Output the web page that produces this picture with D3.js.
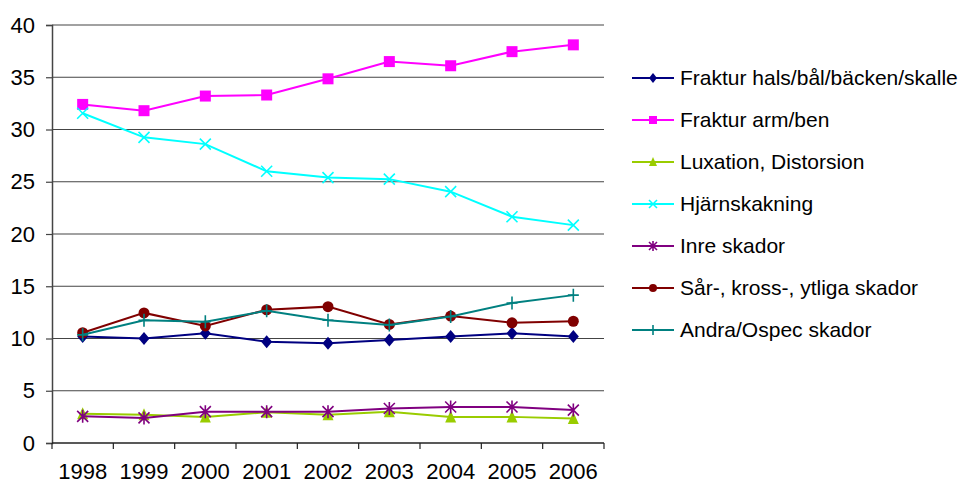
<!DOCTYPE html>
<html>
<head>
<meta charset="utf-8">
<script src="https://cdn.jsdelivr.net/npm/d3@7"></script>
<style>
  body { margin: 0; background: #fff; }
  svg { display: block; font-family: "Liberation Sans", Arial, sans-serif; }
</style>
</head>
<body>
<svg id="chart" width="961" height="483"></svg>
<script>
const years = ["1998", "1999", "2000", "2001", "2002", "2003", "2004", "2005", "2006"];
const yTicks = [0, 5, 10, 15, 20, 25, 30, 35, 40];

const frakturHals = [10.2, 10.0, 10.5, 9.7, 9.55, 9.85, 10.2, 10.5, 10.2];
const frakturArm = [32.4, 31.8, 33.2, 33.3, 34.85, 36.5, 36.1, 37.45, 38.1];
const luxation = [2.8, 2.7, 2.5, 2.95, 2.7, 3.0, 2.5, 2.5, 2.35];
const hjarnskakning = [31.55, 29.25, 28.6, 26.0, 25.4, 25.25, 24.05, 21.65, 20.85];
const inreSkador = [2.55, 2.4, 3.0, 3.0, 3.0, 3.3, 3.45, 3.45, 3.15];
const sarSkador = [10.55, 12.45, 11.2, 12.75, 13.05, 11.35, 12.15, 11.5, 11.65];
const andraSkador = [10.35, 11.75, 11.6, 12.65, 11.75, 11.3, 12.1, 13.4, 14.15];

const seriesNames = [
  "Fraktur hals/bål/bäcken/skalle",
  "Fraktur arm/ben",
  "Luxation, Distorsion",
  "Hjärnskakning",
  "Inre skador",
  "Sår-, kross-, ytliga skador",
  "Andra/Ospec skador"
];
const seriesValues = [frakturHals, frakturArm, luxation, hjarnskakning, inreSkador, sarSkador, andraSkador];
const colors = ["#000080", "#FF00FF", "#99CC00", "#00FFFF", "#800080", "#800000", "#008080"];
const markers = ["diamond", "square", "triangle", "x", "star", "circle", "plus"];

const margin = { top: 25, right: 357, bottom: 40, left: 52 };
const width = 961, height = 483;
const svg = d3.select("#chart");

const x = d3.scaleBand().domain(years).range([margin.left, width - margin.right]);
const y = d3.scaleLinear().domain([0, 40]).range([height - margin.bottom, margin.top]);

// gridlines
svg.append("g")
  .selectAll("line")
  .data(yTicks.filter(d => d > 0))
  .join("line")
  .attr("x1", margin.left).attr("x2", width - margin.right)
  .attr("y1", d => y(d)).attr("y2", d => y(d))
  .attr("stroke", "#444").attr("stroke-width", 1.2);

// y axis
const gY = svg.append("g").attr("transform", `translate(${margin.left},0)`);
gY.call(d3.axisLeft(y).tickValues(yTicks).tickSize(6).tickPadding(11).tickFormat(d3.format("d")));
gY.select(".domain").attr("stroke", "#444").attr("stroke-width", 1.5);
gY.selectAll(".tick line").attr("stroke", "#444").attr("stroke-width", 1.2);
gY.selectAll("text").attr("font-size", 22).attr("fill", "#000");

// x axis with ticks at category boundaries
const gX = svg.append("g").attr("transform", `translate(0,${y(0)})`);
gX.append("line")
  .attr("x1", margin.left).attr("x2", width - margin.right)
  .attr("stroke", "#222").attr("stroke-width", 1.5);
gX.selectAll(".tk")
  .data(years.concat(["end"]))
  .join("line")
  .attr("class", "tk")
  .attr("x1", (d, i) => i < years.length ? x(d) : x.range()[1])
  .attr("x2", (d, i) => i < years.length ? x(d) : x.range()[1])
  .attr("y1", 0).attr("y2", 6)
  .attr("stroke", "#222").attr("stroke-width", 1.2);
gX.selectAll(".lbl")
  .data(years)
  .join("text")
  .attr("class", "lbl")
  .attr("x", d => x(d) + x.bandwidth() / 2)
  .attr("y", 36)
  .attr("text-anchor", "middle")
  .attr("font-size", 22)
  .text(d => d);

// marker drawing
function drawMarker(g, type, color, s) {
  const h = s / 2;
  if (type === "diamond") {
    g.append("path").attr("d", `M0,${-h - 1}L${h},0L0,${h + 1}L${-h},0Z`).attr("fill", color);
  } else if (type === "square") {
    g.append("rect").attr("x", -h).attr("y", -h).attr("width", s).attr("height", s).attr("fill", color);
  } else if (type === "triangle") {
    g.append("path").attr("d", `M0,${-h - 1}L${h},${h}L${-h},${h}Z`).attr("fill", color);
  } else if (type === "circle") {
    g.append("circle").attr("r", h).attr("fill", color);
  } else if (type === "x") {
    g.append("path").attr("d", `M${-h},${-h}L${h},${h}M${-h},${h}L${h},${-h}`)
      .attr("stroke", color).attr("stroke-width", 1.6).attr("fill", "none");
  } else if (type === "star") {
    g.append("path").attr("d", `M${-h},${-h}L${h},${h}M${-h},${h}L${h},${-h}M0,${-h - 1}L0,${h + 1}`)
      .attr("stroke", color).attr("stroke-width", 1.6).attr("fill", "none");
  } else if (type === "plus") {
    g.append("path").attr("d", `M${-h},0L${h},0M0,${-h - 1}L0,${h + 1}`)
      .attr("stroke", color).attr("stroke-width", 1.6).attr("fill", "none");
  }
}

const line = d3.line()
  .x((d, i) => x(years[i]) + x.bandwidth() / 2)
  .y(d => y(d));

const gSeries = svg.append("g");
seriesValues.forEach((vals, si) => {
  const g = gSeries.append("g");
  g.append("path")
    .attr("d", line(vals))
    .attr("fill", "none")
    .attr("stroke", colors[si])
    .attr("stroke-width", 2);
  vals.forEach((v, i) => {
    const m = g.append("g")
      .attr("transform", `translate(${x(years[i]) + x.bandwidth() / 2},${y(v)})`);
    drawMarker(m, markers[si], colors[si], 11);
  });
});

// legend
const legend = svg.append("g").attr("transform", "translate(632,78)");
seriesNames.forEach((name, i) => {
  const row = legend.append("g").attr("transform", `translate(0,${i * 42})`);
  row.append("line").attr("x1", 0).attr("x2", 42)
    .attr("stroke", colors[i]).attr("stroke-width", 2);
  const m = row.append("g").attr("transform", "translate(21,0)");
  drawMarker(m, markers[i], colors[i], 8);
  row.append("text")
    .attr("x", 48).attr("y", 0).attr("dy", "0.35em")
    .attr("font-size", 21)
    .text(name);
});
</script>
</body>
</html>
